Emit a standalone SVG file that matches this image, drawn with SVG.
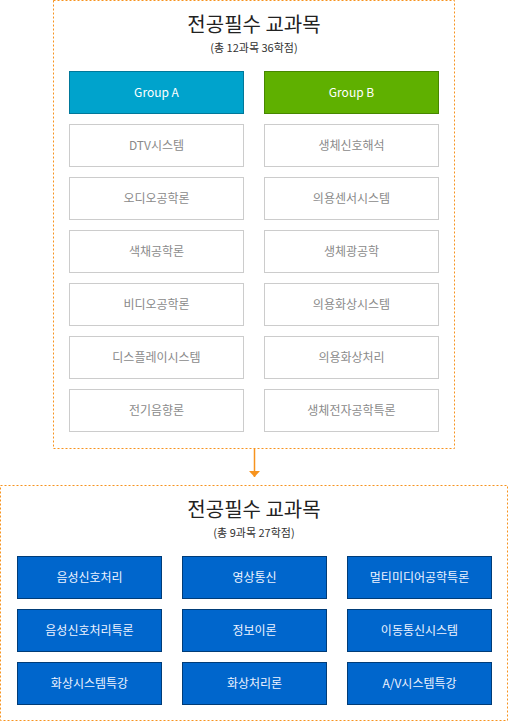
<svg xmlns="http://www.w3.org/2000/svg" width="508" height="721" viewBox="0 0 508 721">
<style>
  text { font-family: "Noto Sans CJK KR", "Noto Sans", sans-serif; text-anchor: middle; }
  .frame { fill: none; stroke: #f7931e; stroke-width: 1; stroke-dasharray: 2 2; }
  .title { font-size: 20px; fill: #222; }
  .sub { font-size: 11px; fill: #333; }
  .ga { fill: #00a3cc; stroke: #00789a; }
  .gb { fill: #5fb000; stroke: #478700; }
  .gray { fill: #fff; stroke: #cccccc; }
  .blue { fill: #0066cc; stroke: #003c78; }
  .lw { font-size: 12px; fill: #ffffff; }
  .lg { font-size: 12px; fill: #8a8a8a; }
  .lb { font-size: 12px; fill: #eef3ff; }
</style>
<defs>
  <marker id="arr" markerWidth="11" markerHeight="7" refX="5.5" refY="6" orient="0" markerUnits="userSpaceOnUse">
    <path d="M0,0 L11,0 L5.5,6 Z" fill="#f7931e"/>
  </marker>
</defs>

<g id="group-top">
  <rect class="frame" x="53.5" y="0.5" width="401" height="448"/>
  <text class="title" x="254" y="32">전공필수 교과목</text>
  <text class="sub" x="254" y="52">(총 12과목 36학점)</text>
</g>

<g id="node-groupA"><rect class="ga" x="69.5" y="71.5" width="174" height="42"/><text class="lw" x="156.5" y="97">Group A</text></g>
<g id="node-groupB"><rect class="gb" x="264.5" y="71.5" width="174" height="42"/><text class="lw" x="351.5" y="97">Group B</text></g>

<g id="node-a1"><rect class="gray" x="69.5" y="124.5" width="174" height="42"/><text class="lg" x="156.5" y="150">DTV시스템</text></g>
<g id="node-a2"><rect class="gray" x="69.5" y="177.5" width="174" height="42"/><text class="lg" x="156.5" y="203">오디오공학론</text></g>
<g id="node-a3"><rect class="gray" x="69.5" y="230.5" width="174" height="42"/><text class="lg" x="156.5" y="256">색채공학론</text></g>
<g id="node-a4"><rect class="gray" x="69.5" y="283.5" width="174" height="42"/><text class="lg" x="156.5" y="309">비디오공학론</text></g>
<g id="node-a5"><rect class="gray" x="69.5" y="336.5" width="174" height="42"/><text class="lg" x="156.5" y="362">디스플레이시스템</text></g>
<g id="node-a6"><rect class="gray" x="69.5" y="389.5" width="174" height="42"/><text class="lg" x="156.5" y="415">전기음향론</text></g>

<g id="node-b1"><rect class="gray" x="264.5" y="124.5" width="174" height="42"/><text class="lg" x="351.5" y="150">생체신호해석</text></g>
<g id="node-b2"><rect class="gray" x="264.5" y="177.5" width="174" height="42"/><text class="lg" x="351.5" y="203">의용센서시스템</text></g>
<g id="node-b3"><rect class="gray" x="264.5" y="230.5" width="174" height="42"/><text class="lg" x="351.5" y="256">생체광공학</text></g>
<g id="node-b4"><rect class="gray" x="264.5" y="283.5" width="174" height="42"/><text class="lg" x="351.5" y="309">의용화상시스템</text></g>
<g id="node-b5"><rect class="gray" x="264.5" y="336.5" width="174" height="42"/><text class="lg" x="351.5" y="362">의용화상처리</text></g>
<g id="node-b6"><rect class="gray" x="264.5" y="389.5" width="174" height="42"/><text class="lg" x="351.5" y="415">생체전자공학특론</text></g>

<g id="connectors">
  <line x1="254.5" y1="449" x2="254.5" y2="477" stroke="#f7931e" stroke-width="1.5" marker-end="url(#arr)"/>
</g>

<g id="group-bottom">
  <rect class="frame" x="0.5" y="485.5" width="507" height="235"/>
  <text class="title" x="254" y="517">전공필수 교과목</text>
  <text class="sub" x="254" y="537">(총 9과목 27학점)</text>
</g>

<g id="node-c1"><rect class="blue" x="17.5" y="556.5" width="144" height="42"/><text class="lb" x="89.5" y="582">음성신호처리</text></g>
<g id="node-c2"><rect class="blue" x="182.5" y="556.5" width="144" height="42"/><text class="lb" x="254.5" y="582">영상통신</text></g>
<g id="node-c3"><rect class="blue" x="347.5" y="556.5" width="144" height="42"/><text class="lb" x="419.5" y="582">멀티미디어공학특론</text></g>
<g id="node-c4"><rect class="blue" x="17.5" y="609.5" width="144" height="42"/><text class="lb" x="89.5" y="635">음성신호처리특론</text></g>
<g id="node-c5"><rect class="blue" x="182.5" y="609.5" width="144" height="42"/><text class="lb" x="254.5" y="635">정보이론</text></g>
<g id="node-c6"><rect class="blue" x="347.5" y="609.5" width="144" height="42"/><text class="lb" x="419.5" y="635">이동통신시스템</text></g>
<g id="node-c7"><rect class="blue" x="17.5" y="662.5" width="144" height="42"/><text class="lb" x="89.5" y="688">화상시스템특강</text></g>
<g id="node-c8"><rect class="blue" x="182.5" y="662.5" width="144" height="42"/><text class="lb" x="254.5" y="688">화상처리론</text></g>
<g id="node-c9"><rect class="blue" x="347.5" y="662.5" width="144" height="42"/><text class="lb" x="419.5" y="688">A/V시스템특강</text></g>
</svg>
